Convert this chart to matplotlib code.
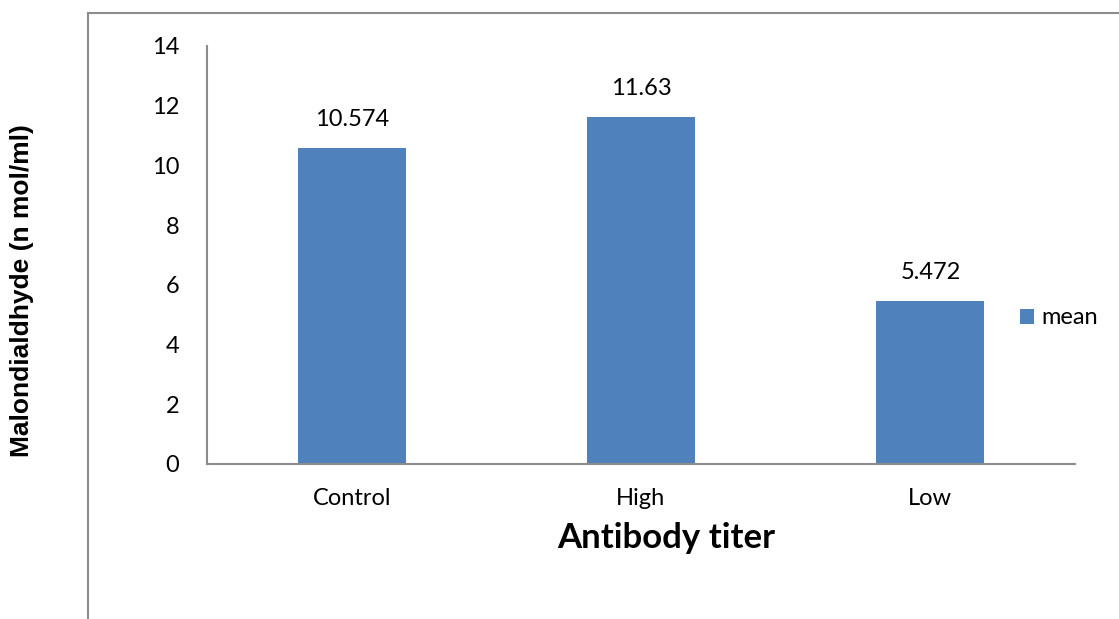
import matplotlib
matplotlib.use("Agg")
import matplotlib.pyplot as plt
from matplotlib.lines import Line2D

categories = ["Control", "High", "Low"]
values = [10.574, 11.63, 5.472]
value_labels = ["10.574", "11.63", "5.472"]
yticks = [0, 2, 4, 6, 8, 10, 12, 14]
series_name = "mean"

W, H = 1119, 619
fig = plt.figure(figsize=(W / 100, H / 100), dpi=100)
ax = fig.add_axes([207 / W, 1 - 464 / H, (1075 - 207) / W, (464 - 46) / H])

bar_color = "#4F81BD"
x = list(range(len(categories)))
bars = ax.bar(x, values, width=0.374, color=bar_color, label=series_name, zorder=2)

fs = 17
ax.set_xlim(-0.5, len(categories) - 0.5)
ax.set_ylim(0, 14)
ax.set_yticks(yticks)
ax.set_yticklabels([str(t) for t in yticks], fontsize=fs, family="Lato")
ax.set_xticks(x)
ax.set_xticklabels(categories, fontsize=fs, family="Lato")
ax.tick_params(axis="both", length=0)
ax.tick_params(axis="y", pad=20)
ax.tick_params(axis="x", pad=17)

for s in ["top", "right"]:
    ax.spines[s].set_visible(False)
for s in ["left", "bottom"]:
    ax.spines[s].set_color("#8c8c8c")
    ax.spines[s].set_linewidth(1.5)

for b, lab in zip(bars, value_labels):
    ax.annotate(lab, (b.get_x() + b.get_width() / 2, b.get_height()),
                xytext=(0, 13), textcoords="offset points", ha="center", va="bottom",
                fontsize=fs, family="Lato")

fig.text(666 / W, 1 - 538 / H, "Antibody titer", ha="center", va="center",
         fontsize=25, fontweight="bold", family="Lato")
fig.text(22 / W, 1 - 291 / H, "Malondialdhyde (n mol/ml)", rotation=90, ha="center", va="center",
         fontsize=19, fontweight="bold", family="Liberation Sans")

leg = ax.legend(loc="center left", bbox_to_anchor=(1020 / W, 1 - 318 / H),
                bbox_transform=fig.transFigure, frameon=False,
                prop={"family": "Lato", "size": fs}, handlelength=0.6, handleheight=0.6,
                handletextpad=0.3, borderpad=0, borderaxespad=0)

fig.add_artist(Line2D([88 / W, 88 / W], [0, 1 - 13 / H], transform=fig.transFigure,
                      color="#8c8c8c", lw=1.5))
fig.add_artist(Line2D([88 / W, 1], [1 - 13 / H, 1 - 13 / H], transform=fig.transFigure,
                      color="#8c8c8c", lw=1.5))

fig.savefig("out.png", dpi=100)
